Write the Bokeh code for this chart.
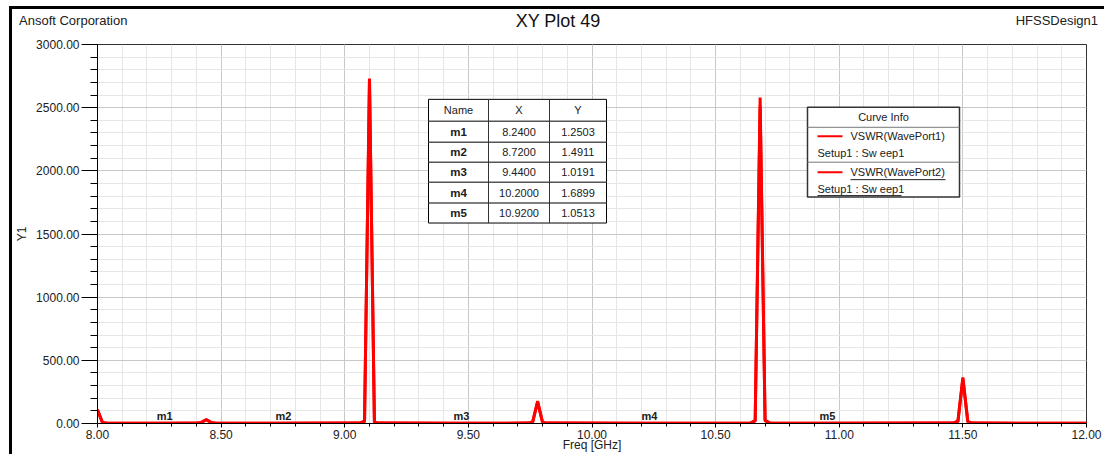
from bokeh.plotting import figure
from bokeh.layouts import column
from bokeh.models import FixedTicker, NumeralTickFormatter, Range1d, Div
from bokeh.core.properties import value
from bokeh.embed import file_html
from bokeh.resources import INLINE

# ---------------- data ----------------
freq1 = [8.00, 8.02, 8.04, 8.24, 8.40, 8.42, 8.44, 8.46, 8.48, 8.72, 9.06, 9.08, 9.10, 9.12, 9.14,
         9.44, 9.74, 9.76, 9.78, 9.80, 9.82, 10.20, 10.64, 10.66, 10.68, 10.70, 10.72, 10.92,
         11.46, 11.48, 11.50, 11.52, 11.54, 12.00]
vswr1 = [110, 8, 2.1, 1.25, 3.0, 9, 32, 8, 2.5, 1.49, 3.5, 18, 2730, 10, 3,
         1.02, 3, 12, 178, 10, 3, 1.69, 3, 22, 2580, 25, 3, 1.05,
         3, 18, 365, 15, 3, 2.0]
freq2 = [8.00, 8.02, 8.04, 8.24, 8.40, 8.42, 8.44, 8.46, 8.48, 8.72, 9.06, 9.08, 9.10, 9.12, 9.14,
         9.44, 9.74, 9.76, 9.78, 9.80, 9.82, 10.20, 10.64, 10.66, 10.68, 10.70, 10.72, 10.92,
         11.46, 11.48, 11.50, 11.52, 11.54, 12.00]
vswr2 = [105, 7, 2.0, 1.26, 2.8, 8, 30, 7, 2.4, 1.50, 3.2, 16, 2715, 9, 3,
         1.03, 3, 11, 170, 9, 3, 1.70, 3, 20, 2515, 22, 3, 1.06,
         3, 16, 355, 14, 3, 2.0]

marker_names = ["m1", "m2", "m3", "m4", "m5"]
marker_x = [8.2400, 8.7200, 9.4400, 10.2000, 10.9200]
marker_y = [1.2503, 1.4911, 1.0191, 1.6899, 1.0513]

series_names = ["VSWR(WavePort1)", "VSWR(WavePort2)"]
series_setup = ["Setup1 : Sw eep1", "Setup1 : Sw eep1"]

x_major = [8.0, 8.5, 9.0, 9.5, 10.0, 10.5, 11.0, 11.5, 12.0]
x_minor = [8.0 + 0.1 * i for i in range(41)]
y_major = [0, 500, 1000, 1500, 2000, 2500, 3000]
y_minor = [100 * i for i in range(31)]

X0, X1, Y0, Y1 = 8.0, 12.0, 0.0, 3000.0

# ---------------- layout (page pixels) ----------------
ML, MT = 9, 6          # outer margin before the black frame border
BORDER = 3
OX = ML + BORDER
OY = MT + BORDER
HEADER_H = 24
FL, FR, FT, FB = 97, 1086, 44, 424
W = 1104 - OX
FIG_TOP = OY + HEADER_H
H = 454 - FIG_TOP

FONT = "Liberation Sans"
RED = "#ff0000"


def dx(px):
    return X0 + (px - FL) / (FR - FL) * (X1 - X0)


def dy(py):
    return Y0 + (FB - py) / (FB - FT) * (Y1 - Y0)


p = figure(width=W, height=H, output_backend="svg", toolbar_location=None,
           x_range=Range1d(X0, X1), y_range=Range1d(Y0, Y1),
           min_border_left=FL - OX, min_border_right=W - (FR - OX),
           min_border_top=FT - FIG_TOP, min_border_bottom=454 - FB)
p.background_fill_color = "white"
p.border_fill_color = "white"
p.outline_line_color = "#303030"
p.outline_line_width = 1

xt = FixedTicker(ticks=x_major, minor_ticks=x_minor)
yt = FixedTicker(ticks=y_major, minor_ticks=y_minor)
p.xaxis.ticker = xt
p.yaxis.ticker = yt
p.xgrid.ticker = xt
p.ygrid.ticker = yt
for g in (p.xgrid, p.ygrid):
    g.grid_line_color = "#c8c8c8"
    g.grid_line_width = 1
    g.minor_grid_line_color = "#e6e6e6"
    g.minor_grid_line_width = 1

p.xaxis.formatter = NumeralTickFormatter(format="0.00")
p.yaxis.formatter = NumeralTickFormatter(format="0.00")
for ax in (p.xaxis, p.yaxis):
    ax.axis_line_color = "black"
    ax.axis_line_width = 1
    ax.major_tick_line_color = "black"
    ax.minor_tick_line_color = "black"
    ax.major_tick_in = 0
    ax.minor_tick_in = 0
    ax.major_label_text_font = FONT
    ax.major_label_text_font_size = "12px"
    ax.major_label_text_color = "#202020"
    ax.major_label_standoff = 2
    ax.axis_label_text_font = FONT
    ax.axis_label_text_font_size = "12px"
    ax.axis_label_text_font_style = "normal"
    ax.axis_label_text_color = "#202020"
p.xaxis.major_tick_out = 4
p.xaxis.minor_tick_out = 3
p.yaxis.major_tick_out = 16
p.yaxis.minor_tick_out = 7
p.yaxis.axis_label = "Y1"
p.yaxis.axis_label_standoff = 4
p.xaxis.axis_label = "Freq [GHz]"
p.xaxis.axis_label_standoff = -4

# curves
p.line(freq1, vswr1, line_color=RED, line_width=3)
p.line(freq2, vswr2, line_color=RED, line_width=3)

# marker labels
p.text(marker_x, marker_y, text=marker_names, text_font=value(FONT), text_font_style="bold",
       text_font_size="11px", text_color="#202020", text_align="left", text_baseline="bottom",
       y_offset=-1)

# ---------------- marker table ----------------
col_edges = [428, 488, 549, 606]
row_edges = [99, 121, 142, 162, 182, 203, 223]
p.quad(left=[dx(col_edges[0])], right=[dx(col_edges[-1])], top=[dy(row_edges[0])],
       bottom=[dy(row_edges[-1])], fill_color="white", line_color="black", line_width=1)
p.segment(x0=[dx(col_edges[0])] * 5, x1=[dx(col_edges[-1])] * 5,
          y0=[dy(r) for r in row_edges[1:-1]], y1=[dy(r) for r in row_edges[1:-1]],
          line_color="#555555", line_width=1.5)
p.segment(x0=[dx(c) for c in col_edges[1:-1]], x1=[dx(c) for c in col_edges[1:-1]],
          y0=[dy(row_edges[0])] * 2, y1=[dy(row_edges[-1])] * 2,
          line_color="#333333", line_width=1)
cx = [dx((col_edges[i] + col_edges[i + 1]) / 2) for i in range(3)]
cy = [dy((row_edges[i] + row_edges[i + 1]) / 2) for i in range(6)]
p.text(cx, [cy[0]] * 3, text=["Name", "X", "Y"], text_font=value(FONT), text_font_size="11px",
       text_color="#202020", text_align="center", text_baseline="middle")
p.text([cx[0]] * 5, cy[1:], text=marker_names, text_font=value(FONT), text_font_style="bold",
       text_font_size="11.5px", text_color="#202020", text_align="center", text_baseline="middle")
p.text([cx[1]] * 5, cy[1:], text=["%.4f" % v for v in marker_x], text_font=value(FONT),
       text_font_size="11px", text_color="#202020", text_align="center", text_baseline="middle")
p.text([cx[2]] * 5, cy[1:], text=["%.4f" % v for v in marker_y], text_font=value(FONT),
       text_font_size="11px", text_color="#202020", text_align="center", text_baseline="middle")

# ---------------- curve info legend ----------------
LL, LR, LT, LB = 807, 959, 107, 197
p.quad(left=[dx(LL)], right=[dx(LR)], top=[dy(LT)], bottom=[dy(LB)],
       fill_color="white", line_color="#333333", line_width=1.5)
p.segment(x0=[dx(LL)] * 2, x1=[dx(LR)] * 2, y0=[dy(127), dy(162)], y1=[dy(127), dy(162)],
          line_color="#777777", line_width=1)
p.text([dx((LL + LR) / 2)], [dy(117)], text=["Curve Info"], text_font=value(FONT),
       text_font_size="11px", text_color="#202020", text_align="center", text_baseline="middle")
p.segment(x0=[dx(817)] * 2, x1=[dx(842)] * 2, y0=[dy(136), dy(172)], y1=[dy(136), dy(172)],
          line_color=RED, line_width=2)
p.text([dx(850)] * 2, [dy(136), dy(172)], text=series_names, text_font=value(FONT),
       text_font_size="11px", text_color="#202020", text_align="left", text_baseline="middle")
p.text([dx(817)] * 2, [dy(153), dy(189)], text=series_setup, text_font=value(FONT),
       text_font_size="11px", text_color="#202020", text_align="left", text_baseline="middle")
p.segment(x0=[dx(850), dx(817)], x1=[dx(945), dx(901)], y0=[dy(179.5), dy(195.5)],
          y1=[dy(179.5), dy(195.5)], line_color="#202020", line_width=1)

# ---------------- header texts ----------------
def span(text, left=None, right=None, cy=20, size=13, color="#202020", center=None):
    lh = size + 4
    top = cy - OY - lh / 2
    pos = ""
    if left is not None:
        pos = "left:%dpx;" % (left - OX)
    elif right is not None:
        pos = "right:%dpx;" % (OX + W - right)
    else:
        pos = "left:%dpx;transform:translateX(-50%%);" % (center - OX)
    return ('<span style="position:absolute;%stop:%.1fpx;font-family:\'%s\';font-size:%dpx;'
            'line-height:%dpx;color:%s;white-space:nowrap;">%s</span>'
            % (pos, top, FONT, size, lh, color, text))


header_html = ('<div style="position:relative;width:%dpx;height:%dpx;">' % (W, HEADER_H)
               + span("Ansoft Corporation", left=19, cy=20, size=13)
               + span("XY Plot 49", center=558, cy=21, size=18, color="#111111")
               + span("HFSSDesign1", right=1098, cy=20, size=13)
               + "</div>")
header = Div(text=header_html, width=W, height=HEADER_H, margin=0,
             styles={"background-color": "white"})

layout = column(header, p, spacing=0)
layout.styles = {"margin-left": "%dpx" % ML, "margin-top": "%dpx" % MT,
                 "border-top": "3px solid #000000", "border-left": "3px solid #000000",
                 "background-color": "white"}

open("out.html", "w").write(file_html(layout, INLINE))
